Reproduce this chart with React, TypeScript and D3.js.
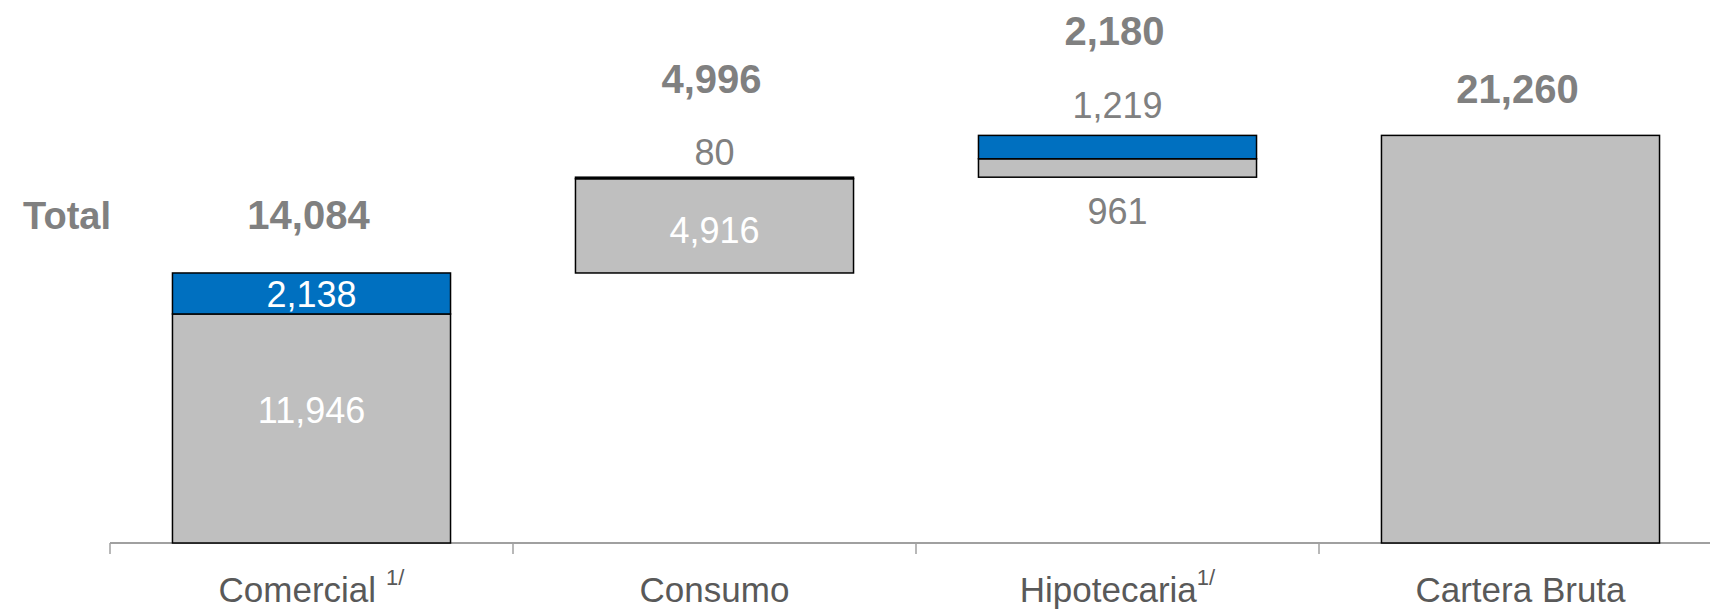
import React from "react";
import * as d3 from "d3";

// Loan portfolio bridge: base (gray) and increase (blue) per segment, then the gross total.
const categories = ["Comercial", "Consumo", "Hipotecaria", "Cartera Bruta"];
const categorySuperscripts = ["1/", "", "1/", ""];
const baseValues = [11946, 4916, 961, 21260];
const growthValues = [2138, 80, 1219, 0];
const totalValues = [14084, 4996, 2180, 21260];
const isTotalColumn = [false, false, false, true];

// Label placement (baseline offsets in px)
type SegLabel = { mode: "inside" | "above" | "below"; dy: number; color: string } | null;
const baseLabelStyle: SegLabel[] = [
  { mode: "inside", dy: -5, color: "#FFFFFF" },
  { mode: "inside", dy: 17, color: "#FFFFFF" },
  { mode: "below", dy: 47, color: "#808080" },
  null,
];
const growthLabelStyle: SegLabel[] = [
  { mode: "inside", dy: 14, color: "#FFFFFF" },
  { mode: "above", dy: -12, color: "#808080" },
  { mode: "above", dy: -17, color: "#808080" },
  null,
];
const totalLabelDy = [-44, -84, -90, -32];

const W = 1710;
const H = 610;
const FONT = "'Liberation Sans', Arial, Helvetica, sans-serif";
const GRAY = "#BFBFBF";
const BLUE = "#0070C0";

export default function App() {
  const axisY = 543;
  const x = d3
    .scaleBand<string>()
    .domain(categories)
    .range([110, 110 + 403 * categories.length])
    .paddingInner(0)
    .paddingOuter(0);
  const y = d3.scaleLinear().domain([0, 21260]).range([axisY, 135.4]);
  const barW = x.bandwidth() * 0.69;
  const fmt = d3.format(",");

  // waterfall starting level of each column
  const starts: number[] = [];
  let running = 0;
  categories.forEach((_, i) => {
    if (isTotalColumn[i]) {
      starts.push(0);
    } else {
      starts.push(running);
      running += totalValues[i];
    }
  });

  const segLabelY = (style: NonNullable<SegLabel>, lo: number, hi: number) => {
    const yTop = y(hi);
    const yBot = y(lo);
    if (style.mode === "inside") return (yTop + yBot) / 2 + style.dy;
    if (style.mode === "above") return yTop + style.dy;
    return yBot + style.dy;
  };

  const tickXs = categories.map((c) => x(c) as number);

  return (
    <svg
      width={W}
      height={H}
      style={{ position: "absolute", left: 0, top: 0, background: "#fff" }}
      fontFamily={FONT}
    >
      <rect width={W} height={H} fill="#fff" />

      {/* axis */}
      <line x1={110} x2={W} y1={axisY} y2={axisY} stroke="#A0A0A0" strokeWidth={2} />
      {tickXs.map((tx, i) => (
        <line key={i} x1={tx} x2={tx} y1={axisY} y2={axisY + 11} stroke="#A0A0A0" strokeWidth={1.5} />
      ))}

      {categories.map((cat, i) => {
        const cx = (x(cat) as number) + x.bandwidth() / 2;
        const x0 = cx - barW / 2;
        const s = starts[i];
        const baseTop = s + baseValues[i];
        const growTop = baseTop + growthValues[i];
        const bl = baseLabelStyle[i];
        const gl = growthLabelStyle[i];
        return (
          <g key={cat}>
            <rect
              x={x0}
              y={y(baseTop)}
              width={barW}
              height={y(s) - y(baseTop)}
              fill={GRAY}
              stroke="#000"
              strokeWidth={1.5}
            />
            {growthValues[i] > 0 && (
              <rect
                x={x0}
                y={y(growTop)}
                width={barW}
                height={y(baseTop) - y(growTop)}
                fill={BLUE}
                stroke="#000"
                strokeWidth={1.5}
              />
            )}
            {bl && (
              <text
                x={cx}
                y={segLabelY(bl, s, baseTop)}
                textAnchor="middle"
                fontSize={36}
                fill={bl.color}
              >
                {fmt(baseValues[i])}
              </text>
            )}
            {gl && (
              <text
                x={cx}
                y={segLabelY(gl, baseTop, growTop)}
                textAnchor="middle"
                fontSize={36}
                fill={gl.color}
              >
                {fmt(growthValues[i])}
              </text>
            )}
            <text
              x={cx - 3}
              y={y(growTop) + totalLabelDy[i]}
              textAnchor="middle"
              fontSize={40}
              fontWeight="bold"
              fill="#808080"
            >
              {fmt(totalValues[i])}
            </text>
            <text x={cx} y={602} textAnchor="middle" fontSize={35} fill="#595959">
              {cat}
              {categorySuperscripts[i] && (
                <tspan dx={i === 0 ? 10 : 0} dy={-17} fontSize={22}>
                  {categorySuperscripts[i]}
                </tspan>
              )}
            </text>
          </g>
        );
      })}

      <text x={111} y={229} textAnchor="end" fontSize={38} fontWeight="bold" fill="#808080">
        Total
      </text>
    </svg>
  );
}
